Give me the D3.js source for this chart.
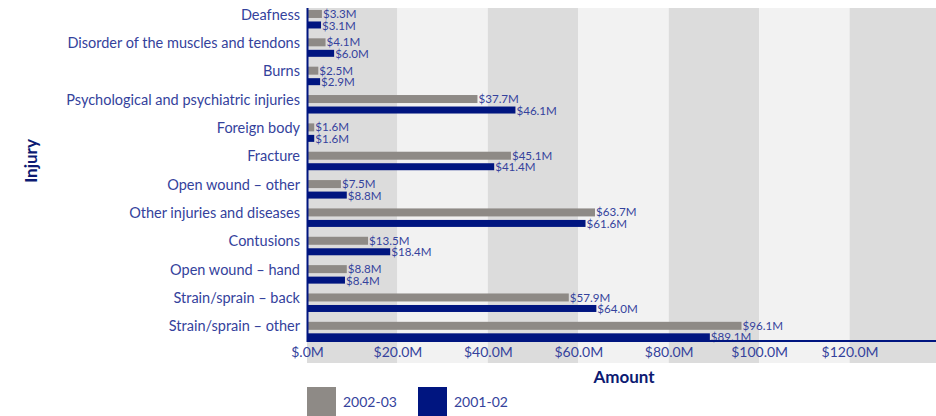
<!DOCTYPE html>
<html>
<head>
<meta charset="utf-8">
<script src="https://cdn.jsdelivr.net/npm/d3@7"></script>
<style>
  html, body { margin: 0; padding: 0; background: #ffffff; }
  svg { display: block; font-family: Lato, "Open Sans", sans-serif; }
</style>
</head>
<body>
<svg id="chart" width="936" height="416"></svg>
<script>
// Injury categories, top to bottom
const categories = [
  "Deafness",
  "Disorder of the muscles and tendons",
  "Burns",
  "Psychological and psychiatric injuries",
  "Foreign body",
  "Fracture",
  "Open wound \u2013 other",
  "Other injuries and diseases",
  "Contusions",
  "Open wound \u2013 hand",
  "Strain/sprain \u2013 back",
  "Strain/sprain \u2013 other"
];
// Amounts in $M
const values2002 = [3.3, 4.1, 2.5, 37.7, 1.6, 45.1, 7.5, 63.7, 13.5, 8.8, 57.9, 96.1];
const values2001 = [3.1, 6.0, 2.9, 46.1, 1.6, 41.4, 8.8, 61.6, 18.4, 8.4, 64.0, 89.1];
const seriesNames = ["2002-03", "2001-02"];
const tickValues = [0, 20, 40, 60, 80, 100, 120];
const tickLabels = ["$.0M", "$20.0M", "$40.0M", "$60.0M", "$80.0M", "$100.0M", "$120.0M"];

const colors = { "2002-03": "#8e8a86", "2001-02": "#001580" };
const textBlue = "#34429c";
const navy = "#0c1a72";

const svg = d3.select("#chart");

const x = d3.scaleLinear().domain([0, 140]).range([307, 940]);
const y = d3.scaleBand().domain(categories).range([3.8, 344]).paddingInner(0).paddingOuter(0);

// Alternating background bands every $20M
const bandStarts = [0, 20, 40, 60, 80, 100, 120];
svg.append("g").selectAll("rect").data(bandStarts).join("rect")
  .attr("x", d => x(d))
  .attr("y", 8)
  .attr("width", d => x(d + 20) - x(d))
  .attr("height", 363 - 8)
  .attr("fill", (d, i) => i % 2 === 0 ? "#dcdcdc" : "#f2f2f2");

// Bars: two per category, grey above navy
const rows = categories.map((c, i) => ({ c, a: values2002[i], b: values2001[i] }));
const barH = 8;
const mid = c => y(c) + y.bandwidth() / 2 + 1.5;

const g = svg.append("g");
g.selectAll("rect.s1").data(rows).join("rect")
  .attr("class", "s1")
  .attr("x", x(0))
  .attr("y", d => mid(d.c) - 9.5)
  .attr("width", d => x(d.a) - x(0))
  .attr("height", barH)
  .attr("fill", colors["2002-03"]);
g.selectAll("rect.s2").data(rows).join("rect")
  .attr("class", "s2")
  .attr("x", x(0))
  .attr("y", d => mid(d.c) + 2)
  .attr("width", d => x(d.b) - x(0))
  .attr("height", barH - 1)
  .attr("fill", colors["2001-02"]);

// Value labels at bar ends
const fmt = v => "$" + v.toFixed(1) + "M";
g.selectAll("text.l1").data(rows).join("text")
  .attr("class", "l1")
  .attr("x", d => x(d.a) + 1)
  .attr("y", d => mid(d.c) - 5.5)
  .attr("dy", "0.35em")
  .attr("font-size", 11.6)
  .attr("fill", textBlue)
  .text(d => fmt(d.a));
g.selectAll("text.l2").data(rows).join("text")
  .attr("class", "l2")
  .attr("x", d => x(d.b) + 1)
  .attr("y", d => mid(d.c) + 6)
  .attr("dy", "0.35em")
  .attr("font-size", 11.6)
  .attr("fill", textBlue)
  .text(d => fmt(d.b));

// Axes
const xAxis = d3.axisBottom(x).tickValues(tickValues).tickSize(0).tickPadding(0)
  .tickFormat((d, i) => tickLabels[i]);
const gx = svg.append("g").attr("transform", "translate(0,341)").call(xAxis);
gx.select(".domain").remove();
gx.selectAll("text").attr("y", 11).attr("dy", "0.35em")
  .attr("font-size", 14).attr("font-family", "Lato, sans-serif").attr("fill", textBlue);

svg.append("line")
  .attr("x1", x(0)).attr("x2", 936).attr("y1", 341).attr("y2", 341)
  .attr("stroke", colors["2001-02"]).attr("stroke-width", 2);

const yAxis = d3.axisLeft(y).tickSize(0).tickPadding(0);
const gy = svg.append("g").attr("transform", "translate(300,0)").call(yAxis);
gy.select(".domain").remove();
gy.selectAll("text")
  .attr("transform", "translate(0,-3)")
  .attr("font-size", 14.5).attr("font-family", "Lato, sans-serif").attr("fill", textBlue);

svg.append("line")
  .attr("x1", 307.5).attr("x2", 307.5).attr("y1", 8).attr("y2", 342)
  .attr("stroke", colors["2001-02"]).attr("stroke-width", 2);

// Axis titles
svg.append("text")
  .attr("x", 624).attr("y", 377).attr("dy", "0.35em")
  .attr("text-anchor", "middle").attr("font-weight", "bold")
  .attr("font-size", 17).attr("fill", navy)
  .text("Amount");
svg.append("text")
  .attr("transform", "translate(31,161) rotate(-90)")
  .attr("dy", "0.35em")
  .attr("text-anchor", "middle").attr("font-weight", "bold")
  .attr("font-size", 17).attr("fill", navy)
  .text("Injury");

// Legend
const legendX = [307, 418];
const lg = svg.append("g").selectAll("g").data(seriesNames).join("g")
  .attr("transform", (d, i) => `translate(${legendX[i]},387)`);
lg.append("rect").attr("width", 29).attr("height", 29).attr("fill", d => colors[d]);
lg.append("text").attr("x", 36).attr("y", 15).attr("dy", "0.35em")
  .attr("font-size", 14).attr("fill", textBlue).text(d => d);
</script>
</body>
</html>
